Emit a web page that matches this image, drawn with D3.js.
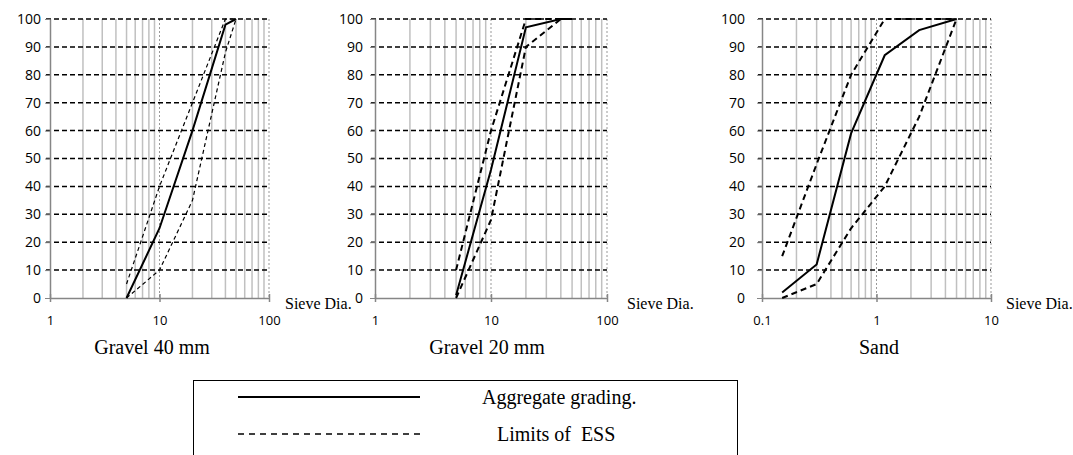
<!DOCTYPE html>
<html>
<head>
<meta charset="utf-8">
<script src="https://cdnjs.cloudflare.com/ajax/libs/d3/7.8.5/d3.min.js"></script>
<style>
  body { margin: 0; background: #fff; }
  svg { display: block; }
  .tick text { font-family: "Open Sans", sans-serif; font-size: 13px; fill: #000; }
  .yax .tick text { font-size: 14px; }
  .serif { font-family: "Liberation Serif", "Times New Roman", serif; fill: #000; }
</style>
</head>
<body>
<div id="vis"></div>
<script>
// Gravel 40 mm
const g40Sieve   = [5, 10, 20, 40, 50];
const g40Grading = [0, 25, 60, 98, 100];
const g40Upper   = [5, 40, 70, 100, 100];
const g40Lower   = [0, 10, 35, 88, 100];

// Gravel 20 mm
const g20Sieve   = [5, 10, 20, 40, 50];
const g20Grading = [1, 46, 97, 100, 100];
const g20Upper   = [10, 60, 100, 100, 100];
const g20Lower   = [0, 28, 90, 100, 100];

// Sand
const sandSieve   = [0.15, 0.3, 0.6, 1.18, 2.36, 5];
const sandGrading = [2, 12, 59, 87, 96, 100];
const sandUpper   = [15, 48, 80, 100, 100, 100];
const sandLower   = [0, 5, 25, 40, 65, 100];

const yTicks = [0, 10, 20, 30, 40, 50, 60, 70, 80, 90, 100];
const titles = ['Gravel 40 mm', 'Gravel 20 mm', 'Sand'];
const legendLabels = ['Aggregate grading.', 'Limits of  ESS'];

const width = 1073;
const height = 455;
const plotTop = 19, plotBottom = 298;

const svg = d3.select('#vis')
  .append('svg')
  .attr('width', width)
  .attr('height', height);

const panels = [
  { x0: 50,  x1: 269, domain: [1, 100],  pad: 4,  title: titles[0], cx: 152, sieveX: 285,
    sieve: g40Sieve, grading: g40Grading, upper: g40Upper, lower: g40Lower, dash: '4,3', dashW: 1.2 },
  { x0: 375, x1: 607, domain: [1, 100],  pad: 7,  title: titles[1], cx: 487, sieveX: 627,
    sieve: g20Sieve, grading: g20Grading, upper: g20Upper, lower: g20Lower, dash: '6,4', dashW: 2 },
  { x0: 762, x1: 991, domain: [0.1, 10], pad: 12, title: titles[2], cx: 879, sieveX: 1006,
    sieve: sandSieve, grading: sandGrading, upper: sandUpper, lower: sandLower, dash: '6,4', dashW: 2 }
];

panels.forEach(function(p) {
  const x = d3.scaleLog().domain(p.domain).range([p.x0, p.x1]);
  const y = d3.scaleLinear().domain([0, 100]).range([plotBottom, plotTop]);
  const g = svg.append('g');

  // minor and major vertical grid
  const lo = p.domain[0];
  const minors = [];
  [lo, lo * 10].forEach(function(d) {
    for (let k = 2; k <= 9; k++) minors.push(d * k);
  });
  g.selectAll('.minor').data(minors).enter().append('line')
    .attr('x1', d => x(d)).attr('x2', d => x(d))
    .attr('y1', plotTop).attr('y2', plotBottom)
    .attr('stroke', '#c0c0c0').attr('stroke-width', 1.5);

  g.selectAll('.major').data([lo * 10, lo * 100]).enter().append('line')
    .attr('x1', d => x(d)).attr('x2', d => x(d))
    .attr('y1', plotTop).attr('y2', plotBottom)
    .attr('stroke', '#999').attr('stroke-width', 1)
    .attr('stroke-dasharray', '2,2');

  // horizontal grid
  g.selectAll('.hgrid').data(yTicks.slice(1)).enter().append('line')
    .attr('x1', p.x0 - 4).attr('x2', p.x1)
    .attr('y1', d => y(d)).attr('y2', d => y(d))
    .attr('stroke', '#000').attr('stroke-width', 1.5)
    .attr('stroke-dasharray', '5,3');

  // axes
  const xAxis = g.append('g')
    .attr('transform', 'translate(0,' + plotBottom + ')')
    .call(d3.axisBottom(x).tickValues([lo, lo * 10, lo * 100])
      .tickFormat(d => d3.format('~g')(d)).tickSizeInner(4).tickSizeOuter(0).tickPadding(14));
  xAxis.select('.domain').attr('stroke', '#868686').attr('stroke-width', 1.5);
  xAxis.selectAll('.tick line').attr('stroke', '#868686').attr('stroke-width', 1.5).attr('y1', -4);

  const yAxis = g.append('g')
    .attr('class', 'yax')
    .attr('transform', 'translate(' + p.x0 + ',0)')
    .call(d3.axisLeft(y).tickValues(yTicks).tickSizeInner(5).tickSizeOuter(0).tickPadding(p.pad));
  yAxis.select('.domain').attr('stroke', '#868686').attr('stroke-width', 1.5);
  yAxis.selectAll('.tick line').attr('stroke', '#868686');

  // data lines
  const line = d3.line()
    .x((d, i) => x(p.sieve[i]))
    .y(d => y(d));

  [p.upper, p.lower].forEach(function(s) {
    g.append('path').datum(s)
      .attr('fill', 'none').attr('stroke', '#000')
      .attr('stroke-width', p.dashW).attr('stroke-dasharray', p.dash)
      .attr('d', line);
  });
  g.append('path').datum(p.grading)
    .attr('fill', 'none').attr('stroke', '#000').attr('stroke-width', 2)
    .attr('d', line);

  g.append('text').attr('class', 'serif')
    .attr('x', p.sieveX).attr('y', 309)
    .attr('font-size', 16).text('Sieve Dia.');

  g.append('text').attr('class', 'serif')
    .attr('x', p.cx).attr('y', 354)
    .attr('text-anchor', 'middle')
    .attr('font-size', 20).text(p.title);
});

// legend
const legend = svg.append('g');
legend.append('rect')
  .attr('x', 193.5).attr('y', 380.5).attr('width', 544).attr('height', 100)
  .attr('fill', 'none').attr('stroke', '#000').attr('stroke-width', 1);
legend.append('line')
  .attr('x1', 238).attr('x2', 420).attr('y1', 397).attr('y2', 397)
  .attr('stroke', '#000').attr('stroke-width', 2);
legend.append('line')
  .attr('x1', 238).attr('x2', 420).attr('y1', 434).attr('y2', 434)
  .attr('stroke', '#000').attr('stroke-width', 1.5).attr('stroke-dasharray', '6,5');
legend.append('text').attr('class', 'serif')
  .attr('x', 482).attr('y', 404).attr('font-size', 20)
  .text(legendLabels[0]);
legend.append('text').attr('class', 'serif')
  .attr('x', 497).attr('y', 441).attr('font-size', 20)
  .style('white-space', 'pre')
  .text(legendLabels[1]);
</script>
</body>
</html>
